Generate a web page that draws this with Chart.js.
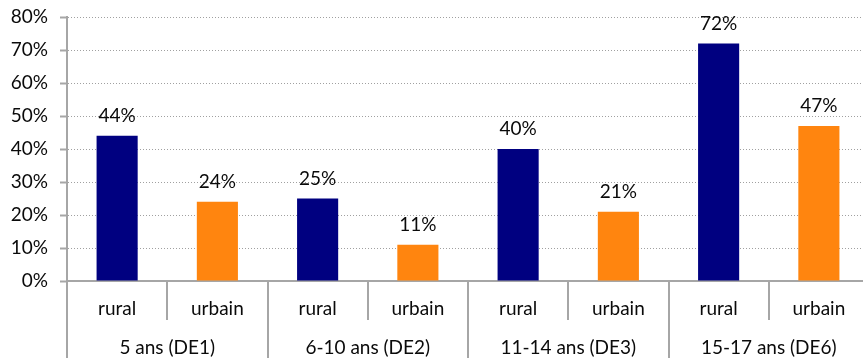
<!DOCTYPE html>
<html>
<head>
<meta charset="utf-8">
<script src="https://cdn.jsdelivr.net/npm/chart.js@4/dist/chart.umd.min.js"></script>
<style>
  html, body { margin: 0; padding: 0; background: #fff; overflow: hidden; }
  #wrap { width: 870px; height: 358px; }
</style>
</head>
<body>
<div id="wrap"><canvas id="chart" width="870" height="358"></canvas></div>
<script>
const subLabels = ['rural', 'urbain', 'rural', 'urbain', 'rural', 'urbain', 'rural', 'urbain'];
const groupLabels = ['5 ans (DE1)', '6-10 ans (DE2)', '11-14 ans (DE3)', '15-17 ans (DE6)'];
const values = [44, 24, 25, 11, 40, 21, 72, 47];
const barColors = ['#000080', '#ff850f', '#000080', '#ff850f', '#000080', '#ff850f', '#000080', '#ff850f'];
const yMax = 80;
const yStep = 10;

const FONT = { family: 'Lato', size: 19 };
const AXIS_GREY = '#a6a6a6';

// value labels above the bars
const valueLabels = {
  id: 'valueLabels',
  afterDatasetsDraw(chart) {
    const ctx = chart.ctx;
    const meta = chart.getDatasetMeta(0);
    ctx.save();
    ctx.font = FONT.size + 'px ' + FONT.family;
    ctx.fillStyle = '#0a0a0a';
    ctx.textAlign = 'center';
    ctx.textBaseline = 'middle';
    meta.data.forEach((bar, i) => {
      ctx.fillText(values[i] + '%', bar.x, bar.y - 20);
    });
    ctx.restore();
  }
};

const ctx = document.getElementById('chart').getContext('2d');
new Chart(ctx, {
  type: 'bar',
  data: {
    labels: subLabels,
    datasets: [{
      data: values,
      backgroundColor: barColors,
      barPercentage: 0.41,
      categoryPercentage: 1
    }]
  },
  options: {
    responsive: false,
    animation: false,
    layout: { padding: { top: 17, right: 1, left: 0, bottom: 0 } },
    plugins: {
      legend: { display: false },
      tooltip: { enabled: false }
    },
    scales: {
      x: {
        type: 'category',
        position: 'bottom',
        grid: { drawOnChartArea: false, offset: true, tickLength: 39, color: AXIS_GREY, lineWidth: 2 },
        border: { color: AXIS_GREY, width: 2 },
        ticks: { padding: -23, font: FONT, color: '#0a0a0a' },
        afterFit: s => { s.height = 39; }
      },
      x2: {
        type: 'category',
        position: 'bottom',
        labels: groupLabels,
        offset: true,
        grid: { drawOnChartArea: false, offset: true, tickLength: 38, color: AXIS_GREY, lineWidth: 2 },
        border: { display: false },
        ticks: { padding: -22, font: FONT, color: '#0a0a0a' },
        afterFit: s => { s.height = 38; }
      },
      y: {
        min: 0,
        max: yMax,
        ticks: { stepSize: yStep, padding: 12, font: FONT, color: '#0a0a0a', callback: v => v + '%' },
        grid: { color: '#a0a0a0', lineWidth: 1, tickLength: 7, tickColor: AXIS_GREY, tickWidth: 2, tickBorderDash: [] },
        border: { color: AXIS_GREY, width: 2, dash: [1, 2] },
        afterFit: s => { s.width = 67; s.paddingTop = 0; s.paddingBottom = 0; }
      }
    }
  },
  plugins: [valueLabels]
});
</script>
</body>
</html>
